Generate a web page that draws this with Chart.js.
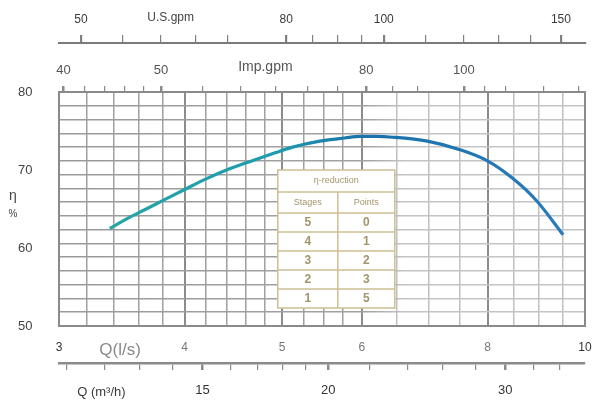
<!DOCTYPE html>
<html>
<head>
<meta charset="utf-8">
<style>
  html, body { margin: 0; padding: 0; background: #fff; }
</style>
<script src="https://cdn.jsdelivr.net/npm/chart.js@4.4.0/dist/chart.umd.min.js"></script>
</head>
<body>
<canvas id="pump-chart" width="603" height="406"></canvas>
<script>
// efficiency curve, flow in l/s
const flowLs = [3.37, 3.51, 3.65, 3.82, 4.0, 4.19, 4.42, 4.67, 4.92, 5.11, 5.45, 5.77, 5.98, 6.2, 6.44, 6.97, 7.51, 7.99, 8.48, 8.96, 9.51];
const efficiency = [62.5, 63.8, 64.9, 66.2, 67.5, 68.8, 70.1, 71.2, 72.2, 72.9, 73.7, 74.1, 74.3, 74.3, 74.2, 73.7, 72.6, 71.2, 68.9, 66.0, 61.7];

// axes
const lsGrid = [3, 3.2, 3.4, 3.6, 3.8, 4, 4.2, 4.4, 4.6, 4.8, 5, 5.25, 5.5, 5.75, 6, 6.5, 7, 7.5, 8, 8.5, 9, 9.5, 10];
const lsLabels = [3, 4, 5, 6, 8, 10];
const m3hTicks = [11, 12, 13, 14, 15, 16, 17, 18, 19, 20, 22, 24, 26, 28, 30, 32, 34];
const m3hLabels = [15, 20, 30];
const impTicks = [40, 42, 44, 46, 48, 50, 55, 60, 65, 70, 75, 80, 85, 90, 100, 105, 110, 120, 130];
const impLabels = [40, 50, 80, 100];
const usTicks = [50, 55, 60, 65, 70, 80, 85, 90, 95, 100, 110, 120, 130, 140, 150];
const usLabels = [50, 80, 100, 150];
const effLabels = [50, 60, 70, 80];

// η-reduction table
const tableStages = ['5', '4', '3', '2', '1'];
const tablePoints = ['0', '1', '2', '3', '5'];

const LS_TO_M3H = 3.6;
const LS_TO_IMP = 13.198;
const LS_TO_US = 15.85;
const Q_MIN = 3;
const Q_MAX = 10;

const FONT = "'Liberation Sans', Arial, sans-serif";

function fixedTicks(values) {
  return (scale) => {
    scale.ticks = values.map((v) => ({ value: v }));
  };
}

function onlyLabels(list) {
  return (value) => (list.some((l) => Math.abs(l - value) < 1e-6) ? String(value) : '');
}

function hGridColor(c) {
  const area = c.chart.chartArea;
  if (!area) return '#a8a8a8';
  const g = c.chart.ctx.createLinearGradient(area.left, 0, area.right, 0);
  g.addColorStop(0, '#9a9a9a');
  g.addColorStop(0.58, '#a2a2a2');
  g.addColorStop(0.66, '#c4c4c4');
  g.addColorStop(1, '#c4c4c4');
  return g;
}

// frame, table and inline axis titles
const extras = {
  id: 'extras',
  beforeDatasetsDraw(chart) {
    const { ctx, chartArea: a } = chart;
    ctx.save();
    ctx.strokeStyle = '#8a8a8a';
    ctx.lineWidth = 2;
    ctx.strokeRect(a.left, a.top, a.right - a.left, a.bottom - a.top);

    // table
    const tx = chart.scales.x.getPixelForValue(4.95);
    const ty = chart.scales.y.getPixelForValue(70);
    const w = 117, colX = tx + 60;
    const titleH = 22, headH = 21, rowH = 19;
    const h = titleH + headH + rowH * tableStages.length;
    ctx.fillStyle = '#fff';
    ctx.fillRect(tx, ty, w, h);
    ctx.strokeStyle = '#cdbf94';
    ctx.lineWidth = 1.5;
    ctx.strokeRect(tx, ty, w, h);
    ctx.beginPath();
    let yy = ty + titleH;
    ctx.moveTo(tx, yy); ctx.lineTo(tx + w, yy);
    yy += headH;
    ctx.moveTo(tx, yy); ctx.lineTo(tx + w, yy);
    for (let i = 1; i < tableStages.length; i++) {
      const ry = yy + rowH * i;
      ctx.moveTo(tx, ry); ctx.lineTo(tx + w, ry);
    }
    ctx.moveTo(colX, ty + titleH); ctx.lineTo(colX, ty + h);
    ctx.stroke();

    ctx.fillStyle = '#a39568';
    ctx.textAlign = 'center';
    ctx.textBaseline = 'middle';
    ctx.font = '9px ' + FONT;
    ctx.fillText('η-reduction', tx + w / 2, ty + titleH / 2);
    ctx.fillText('Stages', (tx + colX) / 2, ty + titleH + headH / 2);
    ctx.fillText('Points', (colX + tx + w) / 2, ty + titleH + headH / 2);
    ctx.font = 'bold 12px ' + FONT;
    tableStages.forEach((s, i) => {
      const cy = ty + titleH + headH + rowH * i + rowH / 2;
      ctx.fillText(s, (tx + colX) / 2, cy);
      ctx.fillText(tablePoints[i], (colX + tx + w) / 2, cy);
    });
    ctx.restore();
  },
  afterDraw(chart) {
    const { ctx, scales } = chart;
    ctx.save();
    ctx.textAlign = 'center';
    ctx.textBaseline = 'middle';

    ctx.fillStyle = '#8a8a8a';
    ctx.font = '17px ' + FONT;
    ctx.fillText('Q(l/s)', scales.x.getPixelForValue(3.45), scales.x.top + 24);

    ctx.fillStyle = '#3a3a3a';
    ctx.font = '13px ' + FONT;
    ctx.fillText('Q (m³/h)', scales.xM.getPixelForValue(11.9), scales.xM.top + 29);

    ctx.fillStyle = '#555';
    ctx.font = '14px ' + FONT;
    ctx.fillText('Imp.gpm', scales.xImp.getPixelForValue(63.5), scales.xImp.bottom - 25);

    ctx.fillStyle = '#444';
    ctx.font = '12px ' + FONT;
    ctx.fillText('U.S.gpm', scales.xUS.getPixelForValue(61.4), scales.xUS.bottom - 25);

    const parts = 'η %'.split(' ');
    ctx.font = '14px ' + FONT;
    ctx.fillText(parts[0], 13, 196);
    ctx.font = '10px ' + FONT;
    ctx.fillText(parts[1], 13, 214);
    ctx.restore();
  },
};

const ctx = document.getElementById('pump-chart');
new Chart(ctx, {
  type: 'line',
  data: {
    datasets: [
      {
        data: flowLs.map((q, i) => ({ x: q, y: efficiency[i] })),
        borderColor: (c) => {
          const area = c.chart.chartArea;
          if (!area) return '#1f8fb0';
          const g = c.chart.ctx.createLinearGradient(area.left, 0, area.right, 0);
          g.addColorStop(0.08, '#25a6a6');
          g.addColorStop(0.42, '#1c9bad');
          g.addColorStop(0.58, '#1a71aa');
          g.addColorStop(1, '#2a7dbd');
          return g;
        },
        borderWidth: 3.2,
        pointRadius: 0,
        cubicInterpolationMode: 'monotone',
        fill: false,
      },
    ],
  },
  options: {
    responsive: false,
    animation: false,
    devicePixelRatio: 1,
    layout: { padding: { top: 12, left: 18, right: 18, bottom: 7 } },
    plugins: { legend: { display: false }, tooltip: { enabled: false } },
    scales: {
      x: {
        type: 'logarithmic',
        position: 'bottom',
        min: Q_MIN,
        max: Q_MAX,
        afterBuildTicks: fixedTicks(lsGrid),
        afterFit: (s) => { s.height = 37; },
        ticks: {
          autoSkip: false, maxRotation: 0, padding: 3,
          color: (c) => ([3, 10].includes(c.tick.value) ? '#333' : '#777'),
          font: { family: FONT, size: 12 }, callback: onlyLabels(lsLabels),
        },
        grid: {
          tickLength: 11,
          tickColor: 'rgba(0,0,0,0)',
          color: (c) => {
            const v = c.tick.value;
            if ([4, 5, 6, 8].includes(v)) return '#8c8c8c';
            return v > 6.3 ? '#c0c0c0' : '#a0a0a0';
          },
          lineWidth: (c) => ([4, 5, 6, 8].includes(c.tick.value) ? 2 : 1.5),
        },
        border: { display: false },
      },
      xM: {
        type: 'logarithmic',
        position: 'bottom',
        min: Q_MIN * LS_TO_M3H,
        max: Q_MAX * LS_TO_M3H,
        afterBuildTicks: fixedTicks(m3hTicks),
        afterFit: (s) => { s.height = 36; },
        ticks: {
          autoSkip: false, maxRotation: 0, padding: 13, color: '#333',
          font: { family: FONT, size: 13 }, callback: onlyLabels(m3hLabels),
        },
        grid: {
          drawOnChartArea: false, tickLength: 7, color: '#8a8a8a',
          lineWidth: (c) => (m3hLabels.includes(c.tick.value) ? 2.5 : 1.2),
        },
        border: { display: true, color: '#8a8a8a', width: 2.5 },
      },
      xImp: {
        type: 'logarithmic',
        position: 'top',
        min: Q_MIN * LS_TO_IMP,
        max: Q_MAX * LS_TO_IMP,
        afterBuildTicks: fixedTicks(impTicks),
        afterFit: (s) => { s.height = 49; },
        ticks: {
          autoSkip: false, maxRotation: 0, padding: 8, color: '#555',
          font: { family: FONT, size: 13 }, callback: onlyLabels(impLabels),
        },
        grid: {
          drawOnChartArea: false, tickLength: 6, color: '#8a8a8a',
          lineWidth: (c) => (impLabels.includes(c.tick.value) ? 2.5 : 1.2),
        },
        border: { display: false },
      },
      xUS: {
        type: 'logarithmic',
        position: 'top',
        min: Q_MIN * LS_TO_US,
        max: Q_MAX * LS_TO_US,
        afterBuildTicks: fixedTicks(usTicks),
        afterFit: (s) => { s.height = 31; },
        ticks: {
          autoSkip: false, maxRotation: 0, padding: 8, color: '#3a3a3a',
          font: { family: FONT, size: 12 }, callback: onlyLabels(usLabels),
        },
        grid: {
          drawOnChartArea: false, tickLength: 8, color: '#808080',
          lineWidth: (c) => (usLabels.includes(c.tick.value) ? 2.2 : 1.2),
        },
        border: { display: true, color: '#7a7a7a', width: 2 },
      },
      y: {
        type: 'linear',
        position: 'left',
        min: 50,
        max: 80,
        afterBuildTicks: (s) => {
          s.ticks = Array.from({ length: 18 }, (_, i) => ({ value: 50 + (i * 30) / 17 }));
        },
        afterFit: (s) => { s.width = 0; },
        ticks: { display: false },
        grid: { drawTicks: false, color: hGridColor, lineWidth: 1.5 },
        border: { display: false },
      },
      yLab: {
        type: 'linear',
        position: 'left',
        min: 50,
        max: 80,
        afterBuildTicks: fixedTicks(effLabels),
        afterFit: (s) => { s.width = 41; },
        ticks: { padding: 0, crossAlign: 'far', color: '#444', font: { family: FONT, size: 13 } },
        grid: { display: false, drawTicks: false },
        border: { display: false },
      },
    },
  },
  plugins: [extras],
});
</script>
</body>
</html>
